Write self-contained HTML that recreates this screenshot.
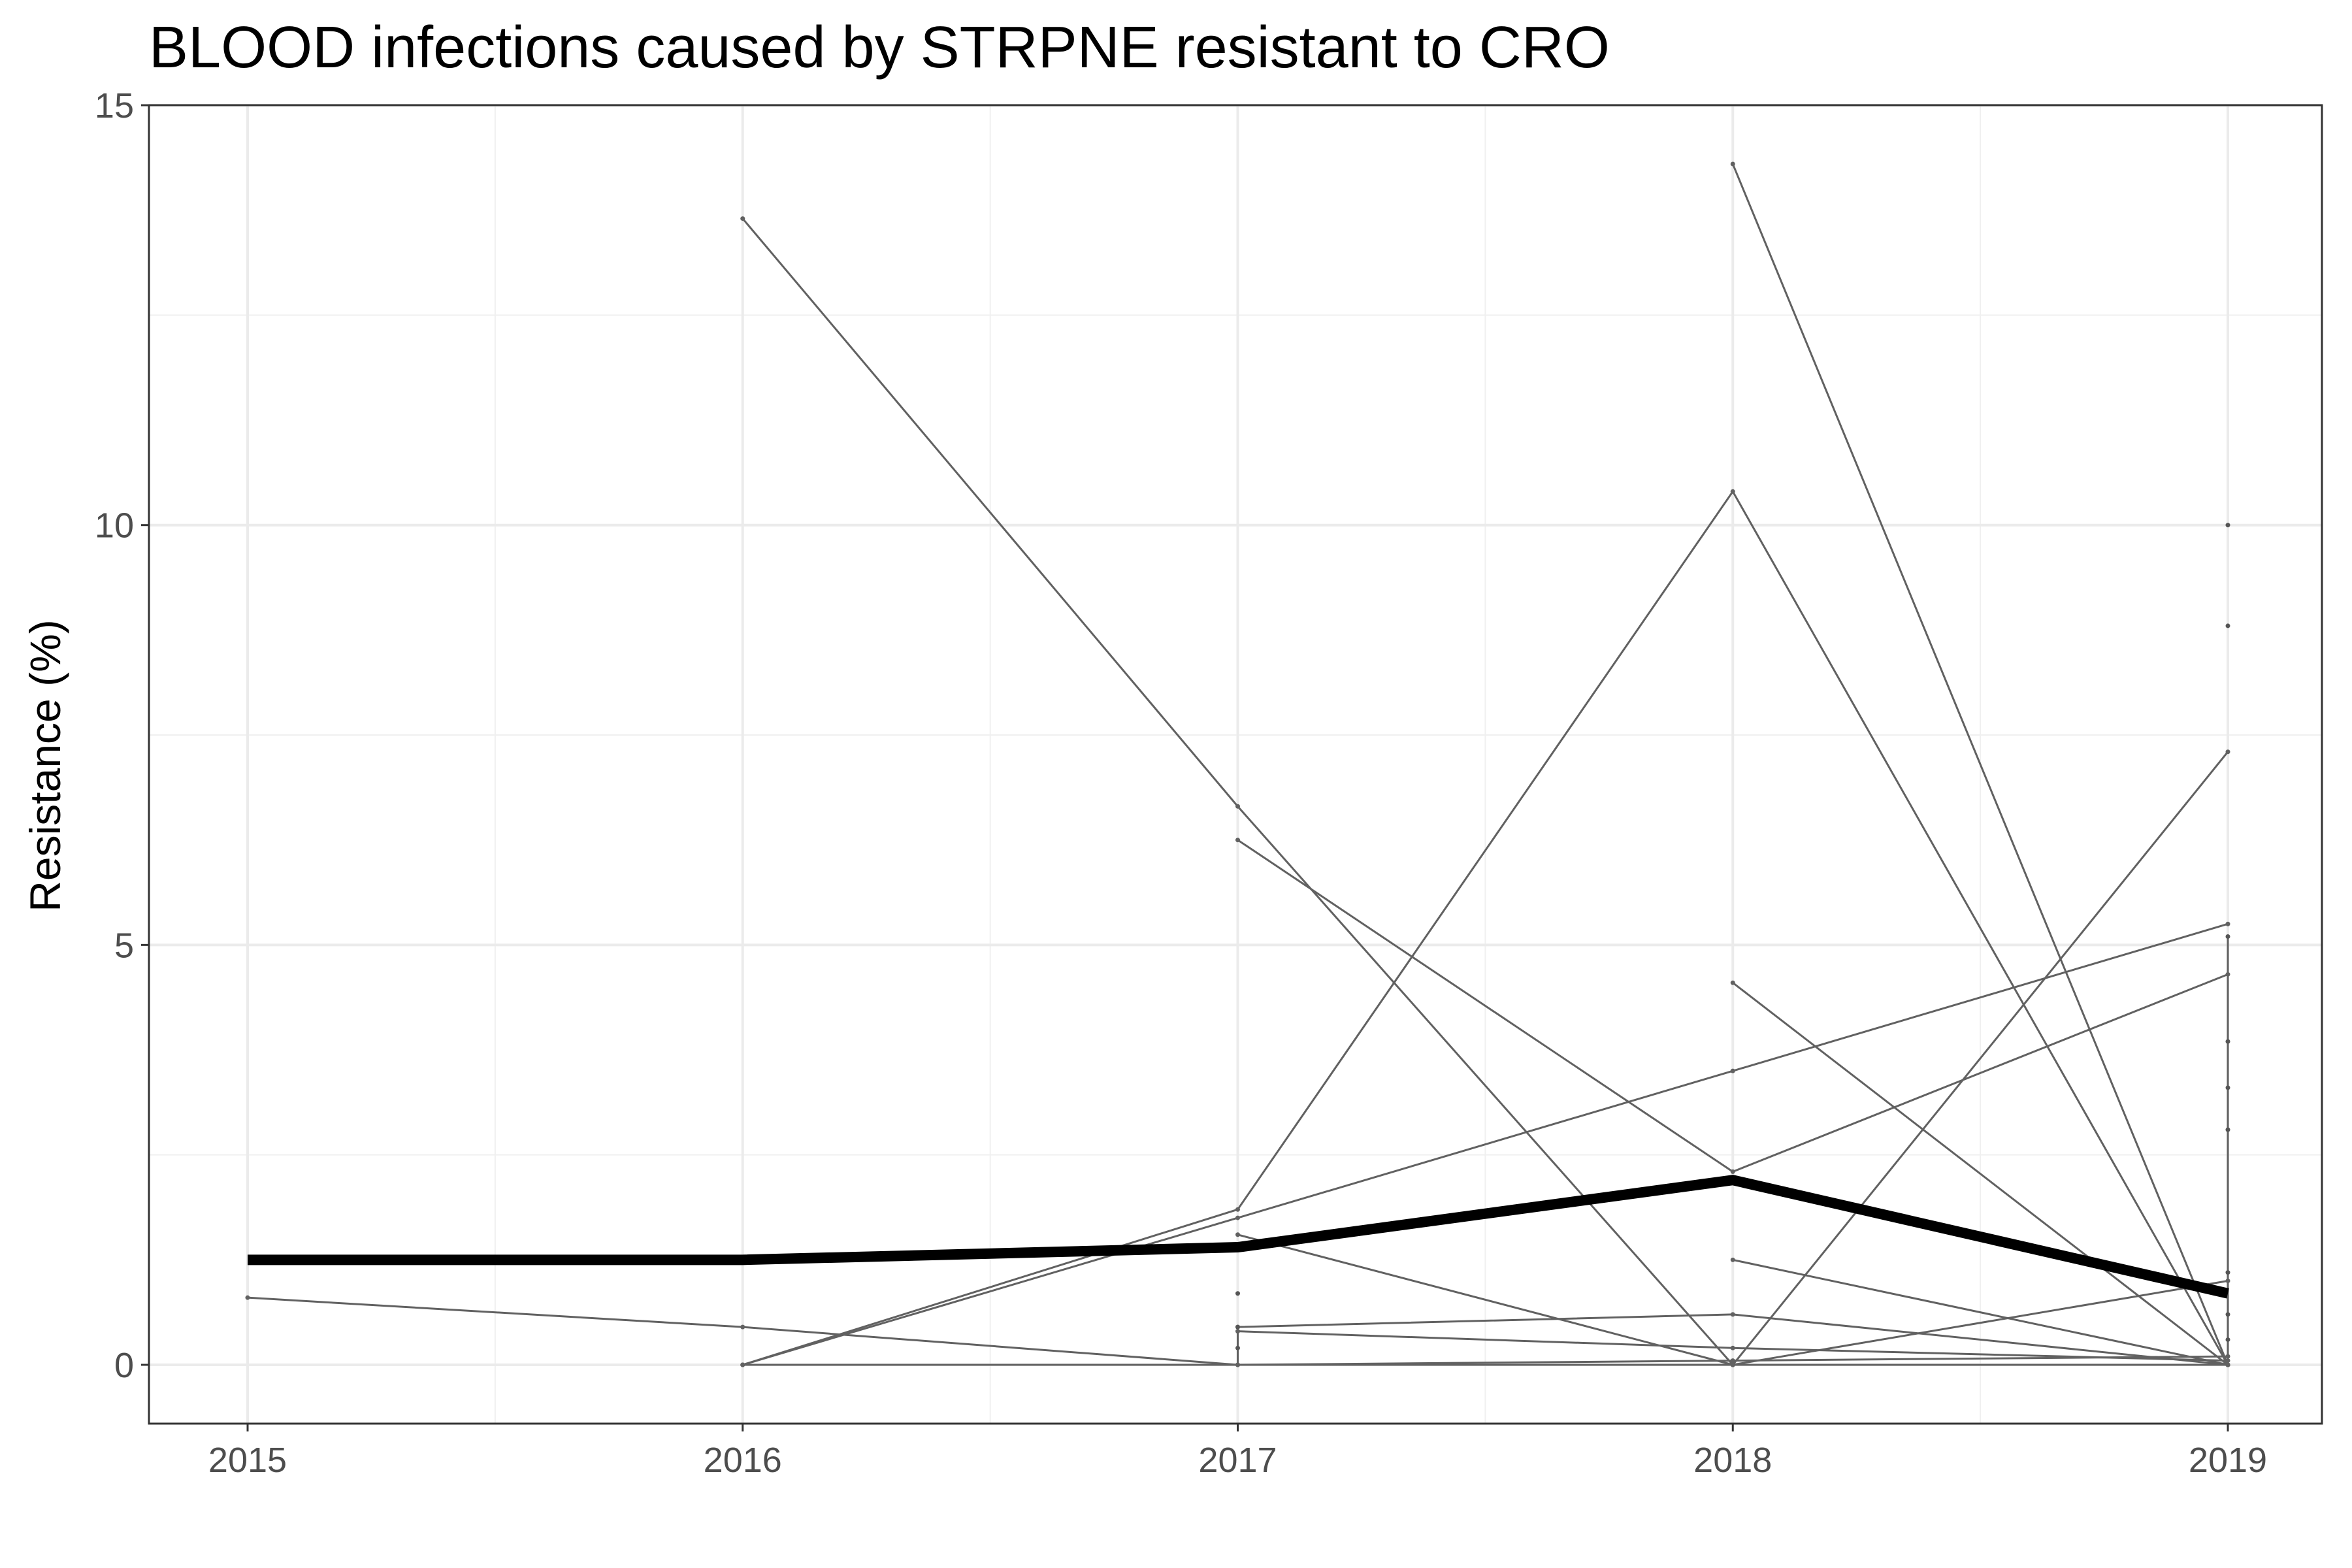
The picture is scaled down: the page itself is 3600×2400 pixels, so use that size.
<!DOCTYPE html>
<html><head><meta charset="utf-8"><style>
html,body{margin:0;padding:0;background:#fff;}
svg{display:block;font-family:"Liberation Sans",Arial,sans-serif;}
</style></head><body>
<svg id="chart" width="3600" height="2400" viewBox="0 0 3600 2400">
<rect width="3600" height="2400" fill="#fff"/>
<text x="228" y="103" font-size="90" fill="#000">BLOOD infections caused by STRPNE resistant to CRO</text>
<g id="grid"></g>
<g id="series"></g>
<rect x="228" y="161" width="3326" height="2018" fill="none" stroke="#333" stroke-width="3"/>
<g id="axes"></g>
<text transform="translate(92,1172) rotate(-90)" text-anchor="middle" font-size="66" fill="#000">Resistance (%)</text>
</svg>
<script>
const years = [2015, 2016, 2017, 2018, 2019];
const yTicks = [0, 5, 10, 15];
const yMinor = [2.5, 7.5, 12.5];
const meanValues = [1.25, 1.25, 1.4, 2.2, 0.85];
const seriesA = [null, 13.65, 6.65, 0, null];
const seriesB = [null, 0, 1.85, 10.4, 0];
const seriesC = [null, 0, 1.75, 3.5, 5.25];
const seriesD = [null, null, 6.25, 2.3, 4.65];
const seriesE = [null, null, null, 14.3, 0];
const seriesF = [null, null, null, 4.55, 0];
const seriesG = [null, null, null, 1.25, 0];
const seriesH = [null, null, null, 0, 7.3];
const seriesI = [null, null, null, 0, 1.0];
const seriesJ = [null, null, 1.55, 0, null];
const seriesK = [null, null, 0.45, 0.6, 0];
const seriesL = [null, null, 0.4, 0.2, 0.05];
const seriesM = [null, 0, 0, 0, 0];
const seriesN = [0.8, 0.45, 0, null, null];
const seriesO = [null, null, 0, 0.05, 0.1];
const points2019 = [10, 8.8, 5.1, 3.85, 3.3, 2.8, 1.1, 0.6, 0.3];
const points2017 = [0.85, 0.45, 0.2];
const thinSeries = [seriesA, seriesB, seriesC, seriesD, seriesE, seriesF, seriesG, seriesH, seriesI, seriesJ, seriesK, seriesL, seriesM, seriesN, seriesO];

const NS = "http://www.w3.org/2000/svg";
function xs(yr){ return 379 + (yr - 2015) * 757.75; }
function ys(v){ return 2089 - v * 128.53; }
function mk(tag, attrs, parent){
  const e = document.createElementNS(NS, tag);
  for (const k in attrs) e.setAttribute(k, attrs[k]);
  parent.appendChild(e); return e;
}
const grid = document.getElementById('grid');
const axes = document.getElementById('axes');
const ser = document.getElementById('series');
yMinor.forEach(v => {
  const l = mk('line', {x1:228, x2:3554, y1:ys(v), y2:ys(v), stroke:'#f0f0f0', 'stroke-width':2}, grid);
  
  
});
for (let i = 0; i < years.length - 1; i++) {
  const xm = (xs(years[i]) + xs(years[i+1])) / 2;
  const l = mk('line', {x1:xm, x2:xm, y1:161, y2:2179, stroke:'#f0f0f0', 'stroke-width':2}, grid);
  
  
}
yTicks.forEach(v => {
  const l = mk('line', {x1:228, x2:3554, y1:ys(v), y2:ys(v), stroke:'#ebebeb', 'stroke-width':4}, grid);
  
  
  const t = mk('line', {x1:216, x2:228, y1:ys(v), y2:ys(v), stroke:'#333', 'stroke-width':3}, axes);
  
  
  const tx = mk('text', {x:205, y:ys(v) + 19, 'text-anchor':'end', 'font-size':54, fill:'#4d4d4d'}, axes);
  tx.textContent = v;
  
  
});
years.forEach(yr => {
  const l = mk('line', {x1:xs(yr), x2:xs(yr), y1:161, y2:2179, stroke:'#ebebeb', 'stroke-width':4}, grid);
  
  
  const t = mk('line', {x1:xs(yr), x2:xs(yr), y1:2179, y2:2191, stroke:'#333', 'stroke-width':3}, axes);
  
  
  const tx = mk('text', {x:xs(yr), y:2253, 'text-anchor':'middle', 'font-size':54, fill:'#4d4d4d'}, axes);
  tx.textContent = yr;
  
  
});
function pathFor(vals){
  let d = ''; let pen = false;
  vals.forEach((v, i) => {
    if (v === null) { pen = false; return; }
    d += (pen ? 'L' : 'M') + xs(years[i]) + ' ' + ys(v) + ' ';
    pen = true;
  });
  return d;
}
thinSeries.forEach(s => {
  const p = mk('path', {d:pathFor(s), fill:'none', stroke:'#616161', 'stroke-width':3}, ser);
  
  
  s.forEach((v, i) => {
    if (v === null) return;
    const c = mk('circle', {cx:xs(years[i]), cy:ys(v), r:3.5, fill:'#616161'}, ser);
    
    
  });
});
const v19 = mk('line', {x1:xs(2019), x2:xs(2019), y1:ys(0), y2:ys(Math.max(...points2019.filter(v => v <= 5.2))), stroke:'#616161', 'stroke-width':3}, ser);


const v17 = mk('line', {x1:xs(2017), x2:xs(2017), y1:ys(0), y2:ys(0.45), stroke:'#616161', 'stroke-width':3}, ser);


points2019.forEach(v => {
  const c = mk('circle', {cx:xs(2019), cy:ys(v), r:3.5, fill:'#555'}, ser);
  
  
});
points2017.forEach(v => {
  const c = mk('circle', {cx:xs(2017), cy:ys(v), r:3.5, fill:'#555'}, ser);
  
  
});
const mean = mk('path', {d:pathFor(meanValues), fill:'none', stroke:'#000', 'stroke-width':16}, ser);


</script>
</body></html>
